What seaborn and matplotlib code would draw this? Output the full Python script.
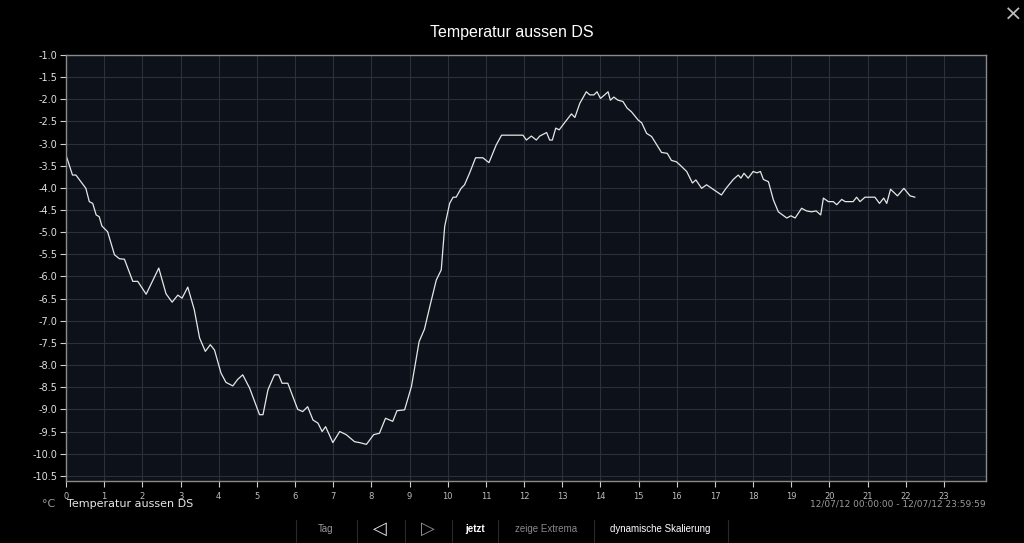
import pandas as pd
import matplotlib.pyplot as plt
import seaborn as sns

# Stunde des Tages / Temperatur in °C
stunden = [0.0, 0.17, 0.26, 0.52, 0.61, 0.70, 0.79, 0.87, 0.94, 1.09, 1.27, 1.40, 1.53,
           1.75, 1.88, 2.10, 2.43, 2.62, 2.78, 2.93, 3.04, 3.19, 3.36, 3.50, 3.65, 3.78,
           3.89, 4.06, 4.19, 4.37, 4.50, 4.63, 4.81, 5.07, 5.16, 5.29, 5.46, 5.57, 5.66,
           5.81, 6.07, 6.20, 6.33, 6.47, 6.60, 6.71, 6.80, 6.99, 7.17, 7.34, 7.56, 7.69,
           7.87, 8.06, 8.21, 8.37, 8.56, 8.67, 8.87, 9.05, 9.13, 9.25, 9.39, 9.53, 9.70,
           9.83, 9.92, 10.05, 10.14, 10.22, 10.35, 10.44, 10.57, 10.73, 10.92, 11.08,
           11.27, 11.41, 11.97, 12.06, 12.19, 12.32, 12.41, 12.59, 12.67, 12.74, 12.83,
           12.92, 13.06, 13.24, 13.33, 13.46, 13.63, 13.72, 13.83, 13.91, 14.00, 14.11,
           14.20, 14.26, 14.35, 14.46, 14.59, 14.70, 14.81, 14.99, 15.08, 15.21, 15.34,
           15.49, 15.60, 15.75, 15.86, 15.99, 16.08, 16.26, 16.41, 16.50, 16.65, 16.78,
           16.95, 17.17, 17.29, 17.48, 17.61, 17.68, 17.76, 17.87, 18.00, 18.10, 18.19,
           18.27, 18.40, 18.53, 18.66, 18.88, 18.99, 19.10, 19.27, 19.40, 19.53, 19.65,
           19.77, 19.84, 19.97, 20.10, 20.19, 20.32, 20.41, 20.62, 20.71, 20.80, 20.93,
           21.19, 21.31, 21.42, 21.50, 21.60, 21.78, 21.95, 22.11, 22.24]
temperatur = [-3.26, -3.71, -3.71, -4.01, -4.31, -4.35, -4.61, -4.65, -4.86, -4.99, -5.51,
              -5.60, -5.61, -6.11, -6.11, -6.40, -5.81, -6.39, -6.58, -6.42, -6.49, -6.24,
              -6.75, -7.39, -7.69, -7.54, -7.66, -8.18, -8.39, -8.47, -8.32, -8.22, -8.52,
              -9.12, -9.12, -8.56, -8.22, -8.22, -8.41, -8.41, -9.00, -9.05, -8.94, -9.24,
              -9.31, -9.50, -9.39, -9.75, -9.50, -9.57, -9.73, -9.75, -9.79, -9.57, -9.54,
              -9.20, -9.27, -9.03, -9.01, -8.48, -8.07, -7.47, -7.19, -6.68, -6.08, -5.85,
              -4.87, -4.35, -4.21, -4.21, -4.01, -3.93, -3.67, -3.32, -3.32, -3.43, -3.03,
              -2.81, -2.81, -2.92, -2.83, -2.92, -2.83, -2.75, -2.92, -2.92, -2.65, -2.69,
              -2.53, -2.33, -2.41, -2.09, -1.83, -1.90, -1.90, -1.83, -1.98, -1.90, -1.83,
              -2.02, -1.95, -2.02, -2.05, -2.20, -2.28, -2.47, -2.53, -2.77, -2.84, -3.05,
              -3.20, -3.22, -3.38, -3.41, -3.48, -3.63, -3.89, -3.82, -4.01, -3.93, -4.03,
              -4.16, -4.01, -3.81, -3.71, -3.78, -3.67, -3.78, -3.63, -3.66, -3.63, -3.81,
              -3.86, -4.27, -4.54, -4.68, -4.63, -4.68, -4.46, -4.52, -4.54, -4.52, -4.61,
              -4.23, -4.31, -4.31, -4.38, -4.26, -4.31, -4.31, -4.21, -4.31, -4.21, -4.21,
              -4.35, -4.23, -4.35, -4.03, -4.18, -4.01, -4.18, -4.21]
y_ticks = [-1.0 - 0.5 * i for i in range(20)]
x_ticks = list(range(24))

df = pd.DataFrame({"Stunde": stunden, "Temperatur": temperatur})

sns.set_style("dark")
plt.rcParams["font.family"] = ["DejaVu Sans"]
ui_font = ["Liberation Sans", "DejaVu Sans"]

fig = plt.figure(figsize=(10.24, 5.43), dpi=100, facecolor="#000000")
ax = fig.add_axes([66 / 1024, 1 - 480.7 / 543, 920 / 1024, 425.7 / 543])
ax.set_facecolor("#0d1119")

sns.lineplot(data=df, x="Stunde", y="Temperatur", ax=ax, color="#e6e6e6",
             linewidth=0.9, estimator=None, sort=False)

ax.set_xlim(0, 24.1)
ax.set_ylim(-10.61, -1.0)
ax.set_yticks(y_ticks)
ax.set_yticklabels([f"{v:.1f}" for v in y_ticks])
ax.set_xticks(x_ticks)
ax.set_xticklabels([str(v) for v in x_ticks])
ax.grid(True, color="#2b303b", linewidth=0.8)
ax.set_xlabel("")
ax.set_ylabel("")
ax.tick_params(axis="y", colors="#cfcfcf", labelcolor="#e0e0e0", labelsize=7,
               length=4, width=0.8, direction="out", left=True, pad=2)
ax.tick_params(axis="x", colors="#cfcfcf", labelcolor="#bdbdbd", labelsize=6,
               length=4, width=0.8, direction="out", bottom=True, pad=4)
for side in ["left", "bottom", "top", "right"]:
    ax.spines[side].set_visible(True)
    ax.spines[side].set_color("#8a8a8a")
    ax.spines[side].set_linewidth(1.0)

fig.text(512 / 1024, 1 - 32 / 543, "Temperatur aussen DS", color="white",
         fontsize=11.5, ha="center", va="center", family=ui_font)
fig.text(1013 / 1024, 1 - 15 / 543, "\u00d7", color="#bdbdbd", fontsize=16,
         ha="center", va="center")

# Legende unter dem Diagramm
fig.text(42 / 1024, 1 - 504 / 543, "°C", color="#9a9a9a", fontsize=8, ha="left", va="center")
fig.text(67 / 1024, 1 - 504 / 543, "Temperatur aussen DS", color="#e6e6e6", fontsize=8,
         ha="left", va="center")
fig.text(986 / 1024, 1 - 504 / 543, "12/07/12 00:00:00 - 12/07/12 23:59:59",
         color="#9a9a9a", fontsize=6.5, ha="right", va="center")

# Schaltflächen
knoepfe = [("Tag", 326, "#9a9a9a", "normal", 7),
           ("\u25c1", 380, "#e6e6e6", "normal", 13),
           ("\u25b7", 428, "#8a8a8a", "normal", 13),
           ("jetzt", 475, "#ffffff", "bold", 7),
           ("zeige Extrema", 546, "#8a8a8a", "normal", 7),
           ("dynamische Skalierung", 660, "#ffffff", "normal", 7)]
for text, x, farbe, gewicht, groesse in knoepfe:
    fig.text(x / 1024, 1 - 529 / 543, text, color=farbe, fontsize=groesse,
             fontweight=gewicht, ha="center", va="center", family=ui_font)
for x in [296, 357, 405, 452, 498, 594, 728]:
    fig.add_artist(plt.Line2D([x / 1024, x / 1024], [1 - 520 / 543, 1 - 542 / 543],
                              color="#2a2a2a", linewidth=0.8, transform=fig.transFigure))

fig.savefig("out.png", dpi=100, facecolor=fig.get_facecolor())
